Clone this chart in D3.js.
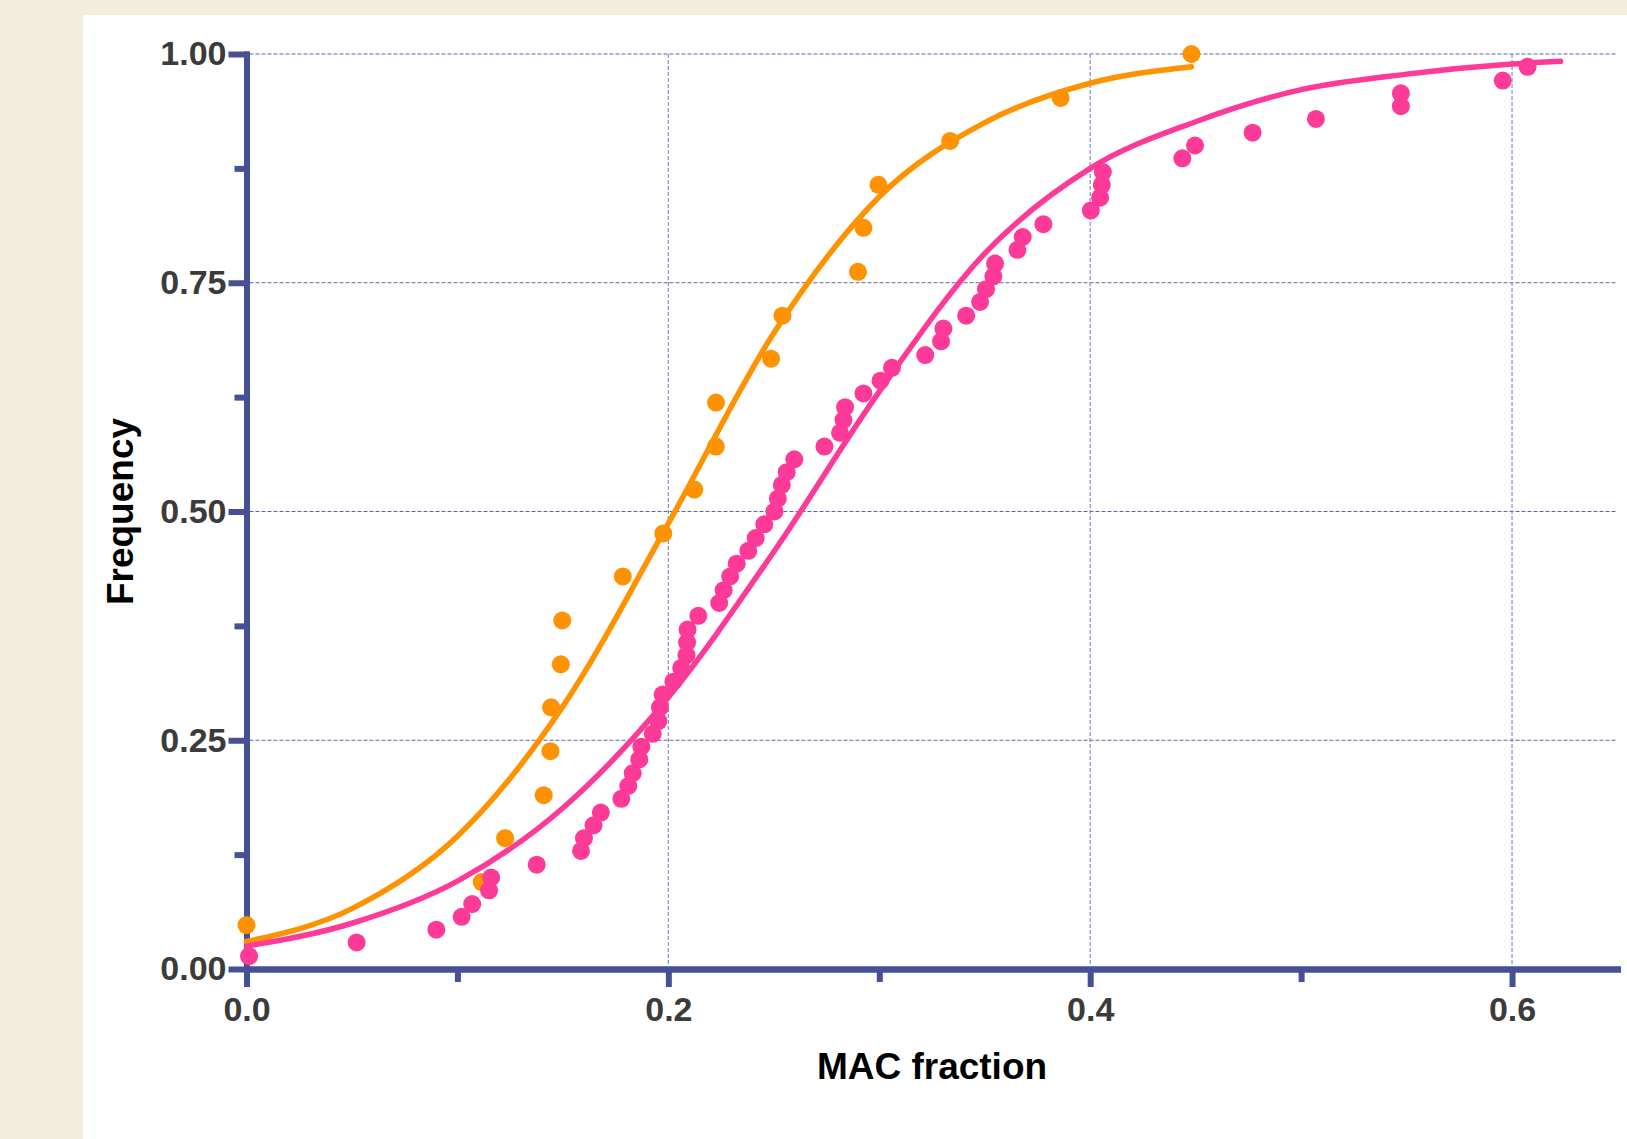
<!DOCTYPE html>
<html>
<head>
<meta charset="utf-8">
<script src="https://cdn.jsdelivr.net/npm/d3@7"></script>
<style>
    body { margin: 0; background: #f3eddc; }
    svg { display: block; font-family: "Liberation Sans", Arial, Helvetica, sans-serif; }
</style>
</head>
<body>
<svg id="chart" width="1627" height="1139"></svg>
<script>
// observed points, orange group
const orangeX = [0.000, 0.1115, 0.1226, 0.1409, 0.1441, 0.1444, 0.1490, 0.1497, 0.1784, 0.1976, 0.2123,
    0.2225, 0.2226, 0.2487, 0.2541, 0.2899, 0.2925, 0.2996, 0.3336, 0.3860, 0.4480];
const orangeY = [0.048, 0.095, 0.143, 0.190, 0.238, 0.286, 0.333, 0.381, 0.429, 0.476, 0.524,
    0.571, 0.619, 0.667, 0.714, 0.762, 0.810, 0.857, 0.905, 0.952, 1.000];

// observed points, pink group
const pinkX = [0.0012, 0.0522, 0.0900, 0.1020, 0.1070, 0.1150, 0.1160, 0.1376, 0.1586, 0.1600,
    0.1645, 0.1680, 0.1777, 0.1810, 0.1831, 0.1862, 0.1872, 0.1926, 0.1953, 0.1960,
    0.1973, 0.2024, 0.2061, 0.2086, 0.2089, 0.2091, 0.2142, 0.2241, 0.2262, 0.2293,
    0.2324, 0.2379, 0.2414, 0.2455, 0.2503, 0.2519, 0.2538, 0.2561, 0.2597, 0.2740,
    0.2814, 0.2830, 0.2838, 0.2925, 0.3006, 0.3060, 0.3218, 0.3293, 0.3304, 0.3412,
    0.3478, 0.3506, 0.3541, 0.3549, 0.3655, 0.3680, 0.3778, 0.4003, 0.4047, 0.4055,
    0.4060, 0.4437, 0.4497, 0.4770, 0.5070, 0.5473, 0.5473, 0.5956, 0.6074];
const pinkY = [0.014, 0.029, 0.043, 0.057, 0.071, 0.086, 0.100, 0.114, 0.129, 0.143,
    0.157, 0.171, 0.186, 0.200, 0.214, 0.229, 0.243, 0.257, 0.271, 0.286,
    0.300, 0.314, 0.329, 0.343, 0.357, 0.371, 0.386, 0.400, 0.414, 0.429,
    0.443, 0.457, 0.471, 0.486, 0.500, 0.514, 0.529, 0.543, 0.557, 0.571,
    0.586, 0.600, 0.614, 0.629, 0.643, 0.657, 0.671, 0.686, 0.700, 0.714,
    0.729, 0.743, 0.757, 0.771, 0.786, 0.800, 0.814, 0.829, 0.843, 0.857,
    0.871, 0.886, 0.900, 0.914, 0.929, 0.943, 0.957, 0.971, 0.986];

// fitted curves
const orangeFitX = [0, 0.05, 0.1, 0.15, 0.2, 0.25, 0.3, 0.35, 0.4, 0.448];
const orangeFitY = [0.030, 0.066, 0.145, 0.287, 0.487, 0.695, 0.844, 0.925, 0.968, 0.986];
const pinkFitX = [0, 0.05, 0.1, 0.15, 0.2, 0.25, 0.3, 0.35, 0.4, 0.45, 0.5, 0.55, 0.6, 0.623];
const pinkFitY = [0.025, 0.050, 0.096, 0.176, 0.297, 0.456, 0.631, 0.782, 0.875, 0.926, 0.961, 0.978, 0.989, 0.992];

// ticks
const xMajor = [0, 0.2, 0.4, 0.6];
const xMinor = [0.1, 0.3, 0.5];
const yMajor = [0, 0.25, 0.5, 0.75, 1];
const yMinor = [0.125, 0.375, 0.625, 0.875];

const colors = {
    orange: '#ff9200',
    pink: '#fd3a97',
    axis: '#465095',
    gridH: '#5c62a8',
    gridV: '#878dc3',
    label: '#3b3b3b'
};

const svg = d3.select('#chart');

const x = d3.scaleLinear().domain([0, 0.65]).range([246.5, 1617.5]),
    y = d3.scaleLinear().domain([0, 1]).range([969, 54]);

function zip(xs, ys) {
    return xs.map((d, i) => [d, ys[i]]);
}

function buildPanel() {
    svg.append('rect')
        .attr('x', 83)
        .attr('y', 15)
        .attr('width', 1627 - 83)
        .attr('height', 1139 - 15)
        .attr('fill', '#fff');
}

function buildGrid() {
    const g = svg.append('g').attr('class', 'grid');

    g.selectAll('line.h')
        .data(yMajor.filter(d => d > 0))
        .join('line')
        .attr('class', 'h')
        .attr('x1', x(0) + 3)
        .attr('x2', x(0.65))
        .attr('y1', d => y(d))
        .attr('y2', d => y(d))
        .attr('stroke', colors.gridH);

    g.selectAll('line.v')
        .data(xMajor.filter(d => d > 0))
        .join('line')
        .attr('class', 'v')
        .attr('x1', d => x(d))
        .attr('x2', d => x(d))
        .attr('y1', y(1))
        .attr('y2', y(0) - 3)
        .attr('stroke', colors.gridV);

    g.selectAll('line')
        .attr('stroke-width', 1.2)
        .attr('stroke-dasharray', '4,2');
}

function styleAxis(g) {
    g.attr('font-family', null).attr('font-size', null);
    g.select('.domain')
        .attr('stroke', colors.axis)
        .attr('stroke-width', 6)
        .attr('stroke-linecap', 'square');
    g.selectAll('.tick line')
        .attr('stroke', colors.axis)
        .attr('stroke-width', 6);
    g.selectAll('.tick text')
        .attr('fill', colors.label)
        .style('font-size', '34px')
        .style('font-weight', 'bold');
}

function buildAxes() {
    // minor ticks first, no labels
    svg.append('g')
        .attr('transform', `translate(0,${y(0)})`)
        .call(d3.axisBottom(x).tickValues(xMinor).tickSize(13).tickSizeOuter(0).tickFormat(''))
        .call(styleAxis);

    svg.append('g')
        .attr('transform', `translate(${x(0)},0)`)
        .call(d3.axisLeft(y).tickValues(yMinor).tickSize(12).tickSizeOuter(0).tickFormat(''))
        .call(styleAxis);

    svg.append('g')
        .attr('transform', `translate(0,${y(0)})`)
        .call(d3.axisBottom(x).tickValues(xMajor).tickSize(18).tickPadding(10)
            .tickSizeOuter(0).tickFormat(d3.format('.1f')))
        .call(styleAxis);

    svg.append('g')
        .attr('transform', `translate(${x(0)},0)`)
        .call(d3.axisLeft(y).tickValues(yMajor).tickSize(18).tickPadding(2)
            .tickSizeOuter(0).tickFormat(d3.format('.2f')))
        .call(styleAxis);
}

function buildTitles() {
    svg.append('text')
        .text('MAC fraction')
        .attr('x', (x(0) + x(0.65)) / 2)
        .attr('y', 1079)
        .attr('text-anchor', 'middle')
        .attr('fill', '#000')
        .style('font-size', '37px')
        .style('font-weight', 'bold');

    svg.append('text')
        .text('Frequency')
        .attr('transform', `translate(133,${(y(0) + y(1)) / 2}) rotate(-90)`)
        .attr('text-anchor', 'middle')
        .attr('fill', '#000')
        .style('font-size', '37px')
        .style('font-weight', 'bold');
}

function buildCurve(xs, ys, color) {
    const line = d3.line()
        .x(d => x(d[0]))
        .y(d => y(d[1]))
        .curve(d3.curveMonotoneX);

    svg.append('path')
        .datum(zip(xs, ys))
        .attr('d', line)
        .attr('fill', 'none')
        .attr('stroke', color)
        .attr('stroke-width', 5.5)
        .attr('stroke-linecap', 'round');
}

function buildDots(xs, ys, color) {
    svg.append('g')
        .selectAll('circle')
        .data(zip(xs, ys))
        .join('circle')
        .attr('cx', d => x(d[0]))
        .attr('cy', d => y(d[1]))
        .attr('r', 9)
        .attr('fill', color);
}

buildPanel();
buildGrid();
buildAxes();
buildCurve(orangeFitX, orangeFitY, colors.orange);
buildCurve(pinkFitX, pinkFitY, colors.pink);
buildDots(orangeX, orangeY, colors.orange);
buildDots(pinkX, pinkY, colors.pink);
buildTitles();
</script>
</body>
</html>
